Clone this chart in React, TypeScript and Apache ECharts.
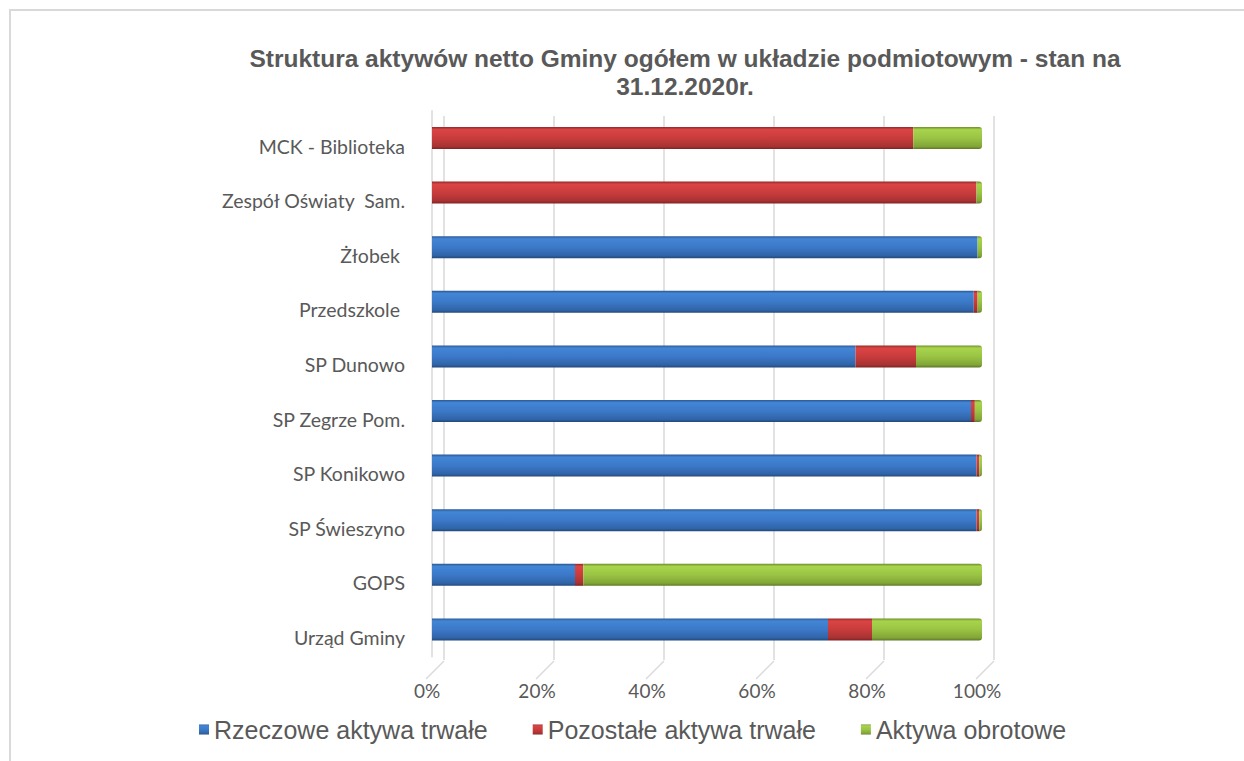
import React, { useEffect, useRef } from "react";
import * as echarts from "echarts";

const categories = [
  "Urząd Gminy",
  "GOPS",
  "SP Świeszyno",
  "SP Konikowo",
  "SP Zegrze Pom.",
  "SP Dunowo",
  "Przedszkole ",
  "Żłobek ",
  "Zespół Oświaty  Sam.",
  "MCK - Biblioteka",
];
const rzeczowe = [72, 26, 99, 99, 98, 77, 98.5, 99.2, 0, 0];
const pozostale = [8, 1.5, 0.5, 0.5, 0.7, 11, 0.7, 0, 99, 87.5];
const obrotowe = [20, 72.5, 0.5, 0.5, 1.3, 12, 0.8, 0.8, 1, 12.5];
const ticks = [0, 20, 40, 60, 80, 100];
const seriesNames = ["Rzeczowe aktywa trwałe", "Pozostałe aktywa trwałe", "Aktywa obrotowe"];

const grad = (stops: [number, string][]) =>
  new echarts.graphic.LinearGradient(0, 0, 0, 1, stops.map(([offset, color]) => ({ offset, color })));

const blue = () =>
  grad([[0, "#2b5893"], [0.12, "#4385d6"], [0.5, "#3c79c8"], [0.88, "#3064a8"], [1, "#23487a"]]);
const red = () =>
  grad([[0, "#8f2a2a"], [0.12, "#dc4444"], [0.5, "#c93c3c"], [0.88, "#a83232"], [1, "#7d2323"]]);
const green = () =>
  grad([[0, "#6e8c2c"], [0.12, "#a8d44c"], [0.5, "#9ac444"], [0.88, "#82a637"], [1, "#5e7826"]]);

export default function App() {
  const ref = useRef<HTMLDivElement>(null);
  useEffect(() => {
    if (!ref.current) return;
    const chart = echarts.init(ref.current, null, { renderer: "svg" });
    const font = "Lato, 'Open Sans', sans-serif";
    const option: any = {
      animation: false,
      backgroundColor: "#ffffff",
      title: {
        text: "Struktura aktywów netto Gminy ogółem w układzie podmiotowym - stan na\n31.12.2020r.",
        left: 680,
        top: 39,
        textAlign: "center",
        textStyle: {
          fontFamily: "'Liberation Sans', Arial, sans-serif",
          fontSize: 24.5,
          fontWeight: "bold",
          color: "#595959",
          lineHeight: 28,
        },
      },
      legend: {
        data: seriesNames,
        left: 194,
        top: 712,
        itemWidth: 10,
        itemHeight: 10,
        itemGap: 45,
        icon: "rect",
        textStyle: {
          fontFamily: "'Liberation Sans', Arial, sans-serif",
          fontSize: 25,
          color: "#595959",
          padding: [0, 0, 0, 0],
        },
      },
      graphic: [
        {
          type: "rect",
          shape: { x: 10, y: 10, width: 1400, height: 900 },
          style: { fill: "none", stroke: "#d9d9d9", lineWidth: 2 },
          silent: true,
        },
      ],
      grid: [
        { left: 432, right: 262, top: 110.7, bottom: 104.3, containLabel: false },
        { left: 444, right: 250, top: 116, bottom: 101, containLabel: false },
      ],
      xAxis: [
        {
          type: "value",
          gridIndex: 0,
          min: 0,
          max: 100,
          interval: 20,
          axisLine: { show: false },
          axisTick: { show: false },
          splitLine: { show: false },
          axisLabel: {
            formatter: (v: number) => v + "%",
            fontFamily: font,
            fontSize: 19,
            color: "#595959",
            margin: 24,
            padding: [0, 10, 0, 0],
          },
        },
        {
          type: "value",
          gridIndex: 1,
          min: 0,
          max: 100,
          interval: 20,
          axisLine: { show: false },
          axisTick: { show: false },
          axisLabel: { show: false },
          splitLine: { show: true, lineStyle: { color: "#d9d9d9", width: 1.5 } },
        },
      ],
      yAxis: [
        {
          type: "category",
          gridIndex: 0,
          data: categories,
          offset: 6,
          axisLine: { show: true, lineStyle: { color: "#d9d9d9", width: 1.5 } },
          axisTick: { show: false },
          axisLabel: {
            fontFamily: font,
            fontSize: 19.5,
            color: "#595959",
            margin: 21,
            verticalAlign: "top",
            lineHeight: 16,
          },
        },
        {
          type: "category",
          gridIndex: 1,
          data: categories,
          show: false,
        },
      ],
      series: [
        {
          type: "custom",
          xAxisIndex: 0,
          yAxisIndex: 0,
          silent: true,
          data: ticks,
          renderItem: (params: any, api: any) => {
            const x = api.coord([api.value(0), 0])[0];
            return {
              type: "line",
              shape: { x1: x - 6, y1: 679, x2: x + 12, y2: 661 },
              style: { stroke: "#d9d9d9", lineWidth: 1.5 },
            };
          },
          encode: { x: 0 },
          z: 1,
        },
        {
          name: seriesNames[0],
          type: "bar",
          stack: "total",
          barWidth: 22,
          data: rzeczowe,
          itemStyle: { color: blue() },
          z: 3,
        },
        {
          name: seriesNames[1],
          type: "bar",
          stack: "total",
          barWidth: 22,
          data: pozostale,
          itemStyle: { color: red() },
          z: 3,
        },
        {
          name: seriesNames[2],
          type: "bar",
          stack: "total",
          barWidth: 22,
          data: obrotowe,
          itemStyle: { color: green(), borderRadius: [0, 3, 3, 0] },
          z: 3,
        },
      ],
    };
    chart.setOption(option);
    return () => chart.dispose();
  }, []);
  return (
    <div
      ref={ref}
      style={{ position: "fixed", left: 0, top: 0, width: 1244, height: 761 }}
    />
  );
}
